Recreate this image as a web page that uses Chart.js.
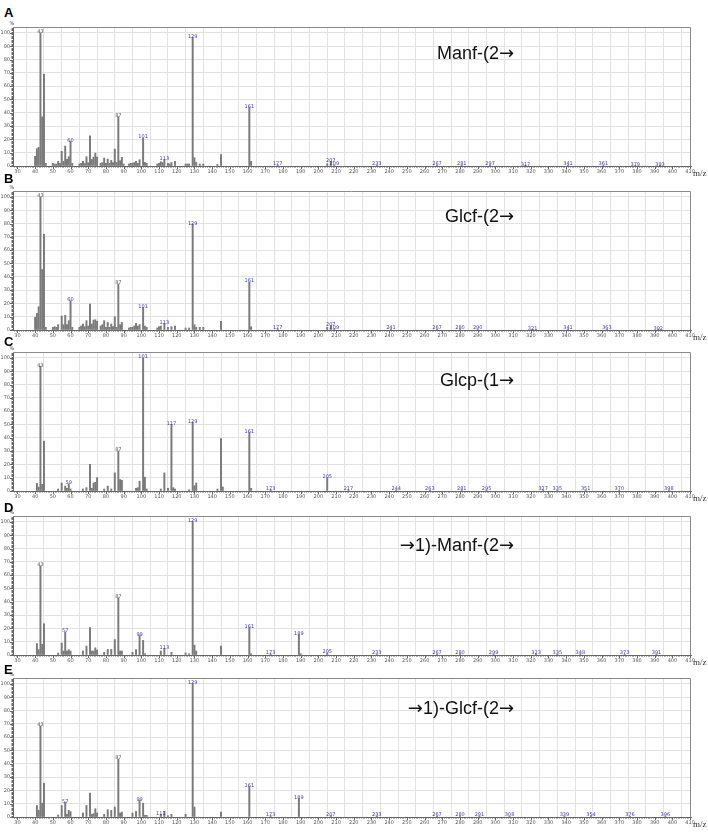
<!DOCTYPE html>
<html>
<head>
<meta charset="utf-8">
<script src="https://cdn.jsdelivr.net/npm/chart.js@4.4.0/dist/chart.umd.min.js"></script>
<style>
  html, body { margin:0; padding:0; background:#fff; }
  #fig { position:relative; width:708px; height:835px; overflow:hidden; }
  .panel { position:absolute; left:0; width:708px; height:180px; }
  .letter { position:absolute; left:4px; font:bold 13px "Liberation Sans", Arial, sans-serif; line-height:13px; color:#000; }
</style>
</head>
<body>
<div id="fig"></div>
<script>
/* GC-MS spectra of partially methylated alditol acetates, panels A-E */

// A: Manf-(2->
const MZ_A = [40,41,42,43,44,45,46,50,51,52,53,54,55,56,57,58,59,60,61,65,66,67,68,69,70,71,72,73,74,75,77,78,79,80,81,82,83,84,85,86,87,88,89,90,93,94,95,96,97,98,99,101,102,103,109,110,111,112,113,115,116,117,119,125,126,127,129,130,131,133,135,143,145,161,162,177,205,207,209,233,267,281,297,317,341,361,379,393];
const INT_A = [7.3,13,14,100,37,69,2,2,1.5,1.5,3.5,2,11,3.5,15,5,7,18.5,2,1.5,2,3.5,2,7,2.5,22.7,5,6.7,9.7,6.7,2,2.5,6,2,5.2,2,4.2,2.5,12.7,2.7,37,4,6.5,1.5,1.5,2,2.2,2.5,3.5,2,4.7,21,2.7,2,1.5,2,3.2,2.5,4.7,2,1.5,2.7,3.5,1.5,1.5,1.5,96.5,6.2,2.7,1.5,1.5,1.2,8.5,44,3.5,1,1.7,3.5,0.8,0.7,0.6,0.6,0.6,0.5,0.6,0.6,0.5,0.5];
const TAG_A = [43,60,87,101,113,129,161,177,207,209,233,267,281,297,317,341,361,379,393];

// B: Glcf-(2->
const MZ_B = [40,41,42,43,44,45,46,50,51,52,53,55,56,57,58,59,60,61,65,66,67,68,69,70,71,72,73,74,75,77,78,79,80,81,82,83,84,85,86,87,88,89,93,94,95,96,97,98,99,101,102,103,109,110,111,113,115,117,119,125,127,129,130,131,133,135,145,161,162,177,205,207,209,241,267,280,290,321,341,363,392];
const INT_B = [9.5,12.5,17.5,100,45.5,72,2,2,2.5,2,4,10.5,4,11,4,7,22,2,2,3,4.5,2.5,7,3,19.5,4.5,7.5,7.7,6.5,3,4,7,2,5.7,2,4.5,2.5,10,2,34.5,4,5.7,1.5,2,2,3,5,3,4,17,3,2,1.5,2.5,3,5,2,2.5,3,1.5,1.5,79.5,4,2,2,2,6.5,36,2.5,1,2,3,1,0.6,0.6,0.7,0.6,0.5,0.6,0.6,0.5];
const TAG_B = [43,60,87,101,113,129,161,177,207,209,241,267,280,290,321,341,363,392];

// C: Glcp-(1->
const MZ_C = [41,42,43,44,45,53,55,57,58,59,60,67,69,71,72,73,74,75,79,81,83,85,87,88,89,97,98,99,101,102,103,111,113,115,117,118,119,127,129,130,131,143,145,146,161,162,173,205,217,244,263,281,295,327,335,351,370,398];
const INT_C = [5.7,3,93.8,5,37.5,1.5,6,3.7,2,5.4,1.5,1.5,2.5,20,2,6,6.5,10,1.5,3.7,1.5,13.6,30,8.6,8,2,2.5,7.4,100,10.4,1.5,1.5,13.6,2,50,2.5,1.5,1,51.5,4,6,1.5,39.5,3,44,2,1.2,10,0.6,0.6,0.6,0.7,0.6,0.6,0.6,0.6,0.6,0.6];
const TAG_C = [43,59,87,101,117,129,161,173,205,217,244,263,281,295,327,335,351,370,398];

// D: ->1)-Manf-(2->
const MZ_D = [41,42,43,44,45,53,55,56,57,58,59,60,67,69,71,72,73,74,75,79,81,83,85,87,88,89,95,97,99,101,102,111,113,117,125,127,129,130,131,145,161,162,173,189,190,205,233,267,280,299,323,335,348,373,391];
const INT_D = [8.6,4,67,8,23.5,1.5,9,3,17.3,3,4,3,3,6.7,20.7,3,3,5.4,3.7,2,4.2,4.2,11.6,43,3,3,2,4,14.6,11,1,3,5,2,1.5,1,100,7.4,3,6.7,20.7,1,1,15.3,1,1.5,0.6,0.6,0.7,0.6,0.6,0.6,0.6,0.6,0.6];
const TAG_D = [43,57,87,99,113,129,161,173,189,205,233,267,280,299,323,335,348,373,391];

// E: ->1)-Glcf-(2->
const MZ_E = [41,42,43,44,45,53,55,57,58,59,60,67,69,71,72,73,74,75,79,81,83,85,87,88,89,95,97,99,101,102,103,111,113,115,117,125,129,130,145,161,173,189,207,233,267,280,291,308,339,354,376,396];
const INT_E = [8.7,5,68.4,10.4,25.4,1.5,8.7,11,2,5,4,3,8.7,18,2,2.5,6.2,3,2,5.5,5,7.5,43.5,3,3.7,3,4.2,12.4,10.4,1.2,1.2,2,4.2,1,2,2,100,7.5,3.7,23,1,13.7,1,0.6,0.6,0.7,0.6,0.6,0.6,0.6,0.6,0.6];
const TAG_E = [43,57,87,99,111,129,161,173,189,207,233,267,280,291,308,339,354,376,396];

const GRAY_TAGS = [43, 87];

const PANELS = [
  { key:'A', mz:MZ_A, it:INT_A, tags:TAG_A, title:'Manf-(2\u2192',          top:0,   letterY:6,   titleDy:32 },
  { key:'B', mz:MZ_B, it:INT_B, tags:TAG_B, title:'Glcf-(2\u2192',          top:164, letterY:172, titleDy:31 },
  { key:'C', mz:MZ_C, it:INT_C, tags:TAG_C, title:'Glcp-(1\u2192',          top:325, letterY:335, titleDy:34 },
  { key:'D', mz:MZ_D, it:INT_D, tags:TAG_D, title:'\u21921)-Manf-(2\u2192', top:489, letterY:501, titleDy:35 },
  { key:'E', mz:MZ_E, it:INT_E, tags:TAG_E, title:'\u21921)-Glcf-(2\u2192', top:651, letterY:663, titleDy:36 }
];

const TICK_COLOR = '#555';
const GRID_COLOR = '#e2e2e2';
const BAR_COLOR  = '#7a7a7a';
const TXT_FONT   = '18px "Liberation Sans", Arial, sans-serif';
const ARROW_FONT = '18px "DejaVu Sans", sans-serif';

// draws the structure label right-aligned, arrows in DejaVu (Liberation has a tiny one)
function drawTitle(ctx, text, right, base) {
  const parts = text.split(/(\u2192)/).filter(s => s.length);
  const w = parts.map(s => { ctx.font = s === '\u2192' ? ARROW_FONT : TXT_FONT; return ctx.measureText(s).width; });
  let x = right - w.reduce((a, b) => a + b, 0);
  parts.forEach((s, i) => {
    ctx.font = s === '\u2192' ? ARROW_FONT : TXT_FONT;
    ctx.fillText(s, x, base);
    x += w[i];
  });
}

const specDecor = {
  id: 'specDecor',
  afterDatasetsDraw(chart, args, o) {
    const { ctx, scales:{ x, y } } = chart;
    ctx.save();
    ctx.font = '5px "DejaVu Sans", sans-serif';
    ctx.textAlign = 'center';
    ctx.textBaseline = 'bottom';
    o.tags.forEach(t => {
      const i = o.mz.indexOf(t);
      if (i < 0) return;
      ctx.fillStyle = GRAY_TAGS.includes(t) ? '#555' : '#3b3bb0';
      ctx.fillText(String(t), x.getPixelForValue(t), y.getPixelForValue(o.it[i]) + 1.5);
    });
    ctx.restore();
  },
  afterDraw(chart, args, o) {
    const { ctx, chartArea:a, scales:{ x, y } } = chart;
    ctx.save();
    // frame top / right
    ctx.strokeStyle = '#8a8a8a'; ctx.lineWidth = 1;
    ctx.beginPath();
    ctx.moveTo(a.left, a.top + 0.5); ctx.lineTo(a.right - 0.5, a.top + 0.5); ctx.lineTo(a.right - 0.5, a.bottom);
    ctx.stroke();
    // minor ticks on both axes
    ctx.strokeStyle = '#666';
    ctx.beginPath();
    for (let m = 28; m <= 410; m++) {
      const px = Math.round(x.getPixelForValue(m)) + 0.5;
      const len = m % 10 === 0 ? 3 : 1.5;
      ctx.moveTo(px, a.bottom); ctx.lineTo(px, a.bottom + len);
    }
    for (let v = 0; v <= 104; v++) {
      const py = Math.round(y.getPixelForValue(v)) + 0.5;
      const len = v % 10 === 0 ? 3 : 1.5;
      ctx.moveTo(a.left, py); ctx.lineTo(a.left - len, py);
    }
    ctx.stroke();
    // % and m/z
    ctx.fillStyle = '#444';
    ctx.font = '5px "DejaVu Sans", sans-serif';
    ctx.textAlign = 'center'; ctx.textBaseline = 'bottom';
    ctx.fillText('%', a.left - 1, a.top - 1);
    ctx.font = '9px "Liberation Serif", serif';
    ctx.textAlign = 'left'; ctx.textBaseline = 'middle';
    ctx.fillStyle = '#333';
    ctx.fillText('m/z', a.right + 2, a.bottom + 8);
    // structure label
    ctx.fillStyle = '#111';
    ctx.textAlign = 'left'; ctx.textBaseline = 'alphabetic';
    drawTitle(ctx, o.title, 514, a.top + o.titleDy);
    ctx.restore();
  }
};

const fig = document.getElementById('fig');

PANELS.forEach(p => {
  const letter = document.createElement('div');
  letter.className = 'letter';
  letter.style.top = p.letterY + 'px';
  letter.textContent = p.key;
  fig.appendChild(letter);

  const cv = document.createElement('canvas');
  cv.className = 'panel';
  cv.width = 708; cv.height = 180;
  cv.style.top = p.top + 'px';
  fig.appendChild(cv);

  new Chart(cv, {
    type: 'bar',
    data: {
      datasets: [{
        data: p.mz.map((m, i) => ({ x: m, y: p.it[i] })),
        backgroundColor: BAR_COLOR,
        barThickness: 1.3,
        grouped: false
      }]
    },
    options: {
      responsive: false,
      animation: false,
      layout: { padding: { top: 27, right: 17, left: 0, bottom: 0 } },
      plugins: {
        legend: { display: false },
        tooltip: { enabled: false },
        specDecor: { mz: p.mz, it: p.it, tags: p.tags, title: p.title, titleDy: p.titleDy }
      },
      scales: {
        x: {
          type: 'linear', min: 27.5, max: 410.5, offset: false,
          grid: { color: GRID_COLOR, drawTicks: false },
          border: { color: '#666' },
          ticks: { stepSize: 10, includeBounds: false, autoSkip: false, maxRotation: 0, padding: 3,
                   color: TICK_COLOR, font: { size: 5, family: 'DejaVu Sans' } },
          afterFit(s) { s.height = 14; }
        },
        y: {
          min: 0, max: 104.5,
          grid: { color: GRID_COLOR, drawTicks: false },
          border: { color: '#666' },
          ticks: { stepSize: 10, includeBounds: false, padding: 3,
                   color: TICK_COLOR, font: { size: 5, family: 'DejaVu Sans' } },
          afterFit(s) { s.width = 13; }
        }
      }
    },
    plugins: [specDecor]
  });
});
</script>
</body>
</html>
